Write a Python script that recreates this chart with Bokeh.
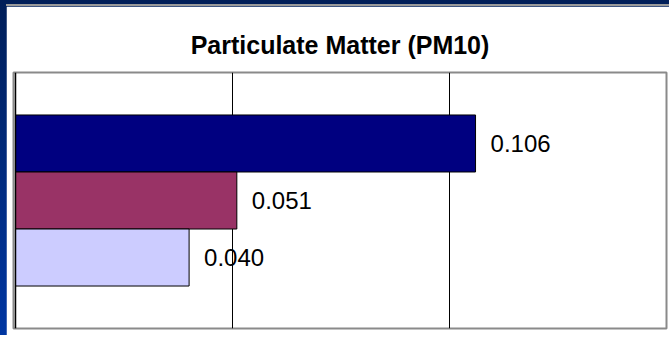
from bokeh.plotting import figure
from bokeh.layouts import column
from bokeh.models import Range1d, Span, ColumnDataSource
from bokeh.core.properties import value
from bokeh.embed import file_html
from bokeh.resources import INLINE

# PM10 results, one bar per series, top to bottom
series = ["Series 1", "Series 2", "Series 3"]
values = [0.106, 0.051, 0.040]
colors = ["#000080", "#993366", "#CCCCFF"]
grid_ticks = [0.05, 0.10]
title_text = "Particulate Matter (PM10)"

BAR_H = 0.2227  # bar thickness as a share of the category band
ys = [0.5 + (1 - i) * BAR_H for i in range(len(values))]
labels = [f"{v:.3f}" for v in values]

src = ColumnDataSource(dict(series=series, y=ys, v=values, color=colors, label=labels))

p = figure(width=663, height=331,
           x_range=Range1d(-2 / 4340, 0.15), y_range=Range1d(0, 1),
           output_backend="svg", toolbar_location=None,
           min_border_left=7, min_border_right=3,
           min_border_top=66, min_border_bottom=9)

p.xaxis.visible = False
p.yaxis.visible = False
p.ygrid.visible = False
p.xgrid.ticker = grid_ticks
p.xgrid.grid_line_color = "black"
p.xgrid.grid_line_width = 1
p.outline_line_color = "#8a8a8a"
p.outline_line_width = 2
p.background_fill_color = "white"
p.border_fill_color = "white"

p.title.text = title_text
p.title.align = "center"
p.title.offset = 4
p.title.text_font = "Liberation Sans"
p.title.text_font_style = "bold"
p.title.text_font_size = "25px"
p.title.text_color = "black"
p.title.standoff = 27

p.hbar(y="y", left=0, right="v", height=BAR_H, source=src,
       fill_color="color", line_color="black", line_width=1)

# category axis line
p.add_layout(Span(location=0, dimension="height", line_color="black", line_width=1.5))

p.text(x="v", y="y", text="label", source=src, x_offset=15,
       text_baseline="middle", text_align="left",
       text_font=value("Liberation Sans"), text_font_size="24px", text_color="black")

# grey rule along the top of the chart area
p.styles = {"border-top": "2px solid #9a9a9a"}

# slide edge: dark blue band on the left and top, lighter towards the bottom
page = column(p, styles={"padding-left": "6px",
                         "padding-top": "4px",
                         "background": "linear-gradient(to bottom, #001e58, #0036a2)"})

open("out.html", "w").write(file_html(page, INLINE))
